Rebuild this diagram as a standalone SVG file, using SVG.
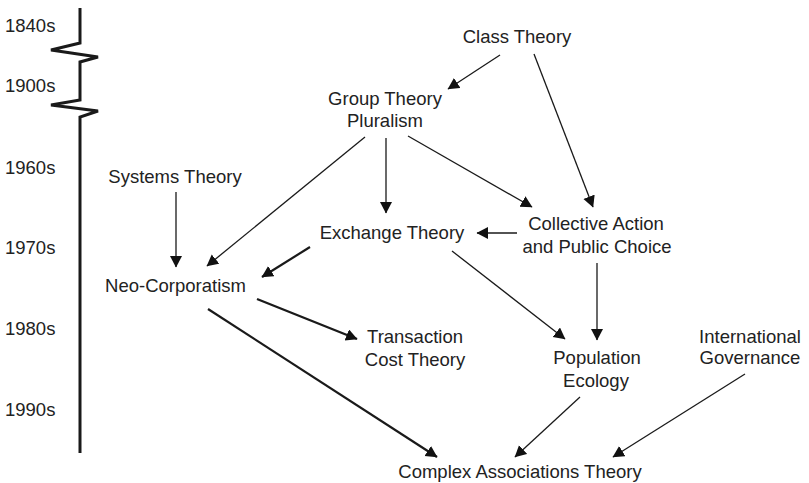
<svg xmlns="http://www.w3.org/2000/svg" width="809" height="483" viewBox="0 0 809 483">
<style>
text{font-family:"Liberation Sans",Arial,sans-serif;font-size:18.5px;fill:#222}
.n text{text-anchor:middle}
.c line{stroke:#1a1a1a;stroke-width:1.3;marker-end:url(#ah)}
.c line.t{stroke-width:2.2}
</style>
<defs>
<marker id="ah" markerUnits="userSpaceOnUse" markerWidth="13" markerHeight="13" refX="11" refY="6" orient="auto">
<path d="M0,0 L11.5,6 L0,12 z" fill="#111"/>
</marker>
</defs>
<g id="timeline">
<polyline points="80,8 80,43 51,50 98,57 80,62 80,100 51,105 98,111 80,117 80,453" fill="none" stroke="#1a1a1a" stroke-width="3" stroke-linejoin="miter"/>
<text x="5" y="32">1840s</text>
<text x="5" y="92">1900s</text>
<text x="5" y="174">1960s</text>
<text x="5" y="254">1970s</text>
<text x="5" y="335">1980s</text>
<text x="5" y="416">1990s</text>
</g>
<g class="c" id="connectors">
<line x1="500" y1="55" x2="448" y2="89"/>
<line x1="534" y1="54" x2="593" y2="207"/>
<line x1="365" y1="137" x2="207" y2="266"/>
<line x1="386" y1="138" x2="386" y2="213"/>
<line x1="408" y1="136" x2="532" y2="207"/>
<line x1="176" y1="192" x2="176" y2="267"/>
<line class="t" x1="310" y1="247" x2="262" y2="277"/>
<line x1="517" y1="233" x2="477" y2="233"/>
<line x1="452" y1="251" x2="565" y2="339"/>
<line x1="597" y1="263" x2="597" y2="340"/>
<line class="t" x1="257" y1="299" x2="357" y2="339"/>
<line class="t" x1="208" y1="309" x2="437" y2="457"/>
<line x1="580" y1="397" x2="515" y2="457"/>
<line x1="745" y1="374" x2="613" y2="457"/>
</g>
<g class="n" id="class-theory"><text x="517" y="43">Class Theory</text></g>
<g class="n" id="group-theory"><text x="385" y="105">Group Theory</text><text x="385" y="127">Pluralism</text></g>
<g class="n" id="systems-theory"><text x="175" y="183">Systems Theory</text></g>
<g class="n" id="exchange-theory"><text x="392" y="239">Exchange Theory</text></g>
<g class="n" id="collective-action"><text x="596" y="230">Collective Action</text><text x="597" y="253">and Public Choice</text></g>
<g class="n" id="neo-corporatism"><text x="175.5" y="292">Neo-Corporatism</text></g>
<g class="n" id="transaction-cost"><text x="415" y="343">Transaction</text><text x="415" y="366">Cost Theory</text></g>
<g class="n" id="population-ecology"><text x="597" y="364">Population</text><text x="596" y="387">Ecology</text></g>
<g class="n" id="international-governance"><text x="750" y="343">International</text><text x="750" y="364">Governance</text></g>
<g class="n" id="complex-associations"><text x="520" y="478">Complex Associations Theory</text></g>
</svg>
